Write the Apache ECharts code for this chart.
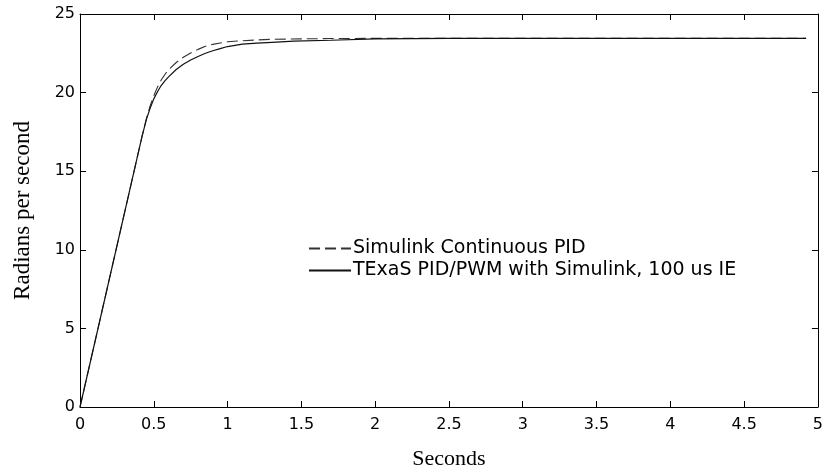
<!DOCTYPE html>
<html>
<head>
<meta charset="utf-8">
<script src="https://cdn.jsdelivr.net/npm/echarts@6/dist/echarts.min.js"></script>
<style>
  html, body { margin: 0; padding: 0; background: #fff; }
  #chart { width: 826px; height: 475px; }
</style>
</head>
<body>
<div id="chart"></div>
<script>
// Time samples (seconds) and values (rad/s)
const tContinuous = [0, 0.42, 0.45, 0.475, 0.5, 0.525, 0.55, 0.575, 0.6, 0.65, 0.7, 0.75, 0.8, 0.85, 0.9, 0.95, 1.0, 1.1, 1.2, 1.3, 1.5, 1.75, 2.0, 3.0, 4.0, 4.92];
const yContinuous = [0, 17.2, 18.35, 19.15, 19.8, 20.35, 20.8, 21.15, 21.45, 21.9, 22.25, 22.52, 22.75, 22.95, 23.07, 23.16, 23.23, 23.3, 23.35, 23.39, 23.42, 23.44, 23.45, 23.45, 23.45, 23.45];

const tPwm = [0, 0.42, 0.45, 0.475, 0.5, 0.525, 0.55, 0.575, 0.6, 0.65, 0.7, 0.75, 0.8, 0.85, 0.9, 0.95, 1.0, 1.1, 1.2, 1.3, 1.45, 1.7, 2.0, 2.5, 3.0, 4.0, 4.92];
const yPwm = [0, 17.2, 18.3, 19.0, 19.6, 20.05, 20.45, 20.75, 21.0, 21.45, 21.8, 22.07, 22.3, 22.5, 22.66, 22.8, 22.93, 23.08, 23.15, 23.2, 23.27, 23.33, 23.42, 23.45, 23.45, 23.45, 23.45];

const seriesNames = ['Simulink Continuous PID', 'TExaS PID/PWM with Simulink, 100 us IE'];
const xAxisName = 'Seconds';
const yAxisName = 'Radians per second';

const pairs = (t, y) => t.map((v, i) => [v, y[i]]);

const chart = echarts.init(document.getElementById('chart'), null, { renderer: 'canvas' });

const sansFont = 'DejaVu Sans, Liberation Sans, Arial, sans-serif';
const serifFont = 'Liberation Serif, Times New Roman, serif';

const axisCommon = {
  type: 'value',
  axisLine: { show: true, onZero: false, lineStyle: { color: '#000', width: 1 } },
  axisTick: { show: true, inside: true, length: 6, lineStyle: { color: '#000' } },
  splitLine: { show: false }
};

chart.setOption({
  animation: false,
  backgroundColor: '#fff',
  grid: { left: 80, right: 2, top: 14, bottom: 61, containLabel: false },
  xAxis: [
    Object.assign({}, axisCommon, {
      position: 'bottom', min: 0, max: 5, interval: 0.5,
      axisLabel: { color: '#000', fontFamily: sansFont, fontSize: 16, margin: 10, showMaxLabel: true },
      name: xAxisName, nameLocation: 'middle', nameGap: 41,
      nameTextStyle: { color: '#000', fontFamily: serifFont, fontSize: 22 }
    }),
    Object.assign({}, axisCommon, {
      position: 'top', min: 0, max: 5, interval: 0.5,
      axisLabel: { show: false }
    })
  ],
  yAxis: [
    Object.assign({}, axisCommon, {
      position: 'left', min: 0, max: 25, interval: 5,
      axisLabel: { color: '#000', fontFamily: sansFont, fontSize: 16, margin: 5 },
      name: yAxisName, nameLocation: 'middle', nameGap: 46,
      nameTextStyle: { color: '#000', fontFamily: serifFont, fontSize: 23 }
    }),
    Object.assign({}, axisCommon, {
      position: 'right', min: 0, max: 25, interval: 5,
      axisLabel: { show: false }
    })
  ],
  legend: {
    orient: 'vertical',
    left: 303,
    top: 233,
    itemWidth: 42,
    itemHeight: 12,
    itemGap: 1,
    itemStyle: { opacity: 0 },
    textStyle: { color: '#000', fontFamily: sansFont, fontSize: 19, lineHeight: 21, padding: [0, 0, 0, -3] },
    data: seriesNames
  },
  series: [
    {
      name: seriesNames[0],
      type: 'line',
      data: pairs(tContinuous, yContinuous),
      showSymbol: false,
      symbol: 'none',
      smooth: false,
      lineStyle: { color: '#333', width: 1.1, type: [11, 5] },
      itemStyle: { color: '#333' }
    },
    {
      name: seriesNames[1],
      type: 'line',
      data: pairs(tPwm, yPwm),
      showSymbol: false,
      symbol: 'none',
      smooth: false,
      lineStyle: { color: '#111', width: 1.2, type: 'solid' },
      itemStyle: { color: '#111' }
    }
  ]
});
</script>
</body>
</html>
